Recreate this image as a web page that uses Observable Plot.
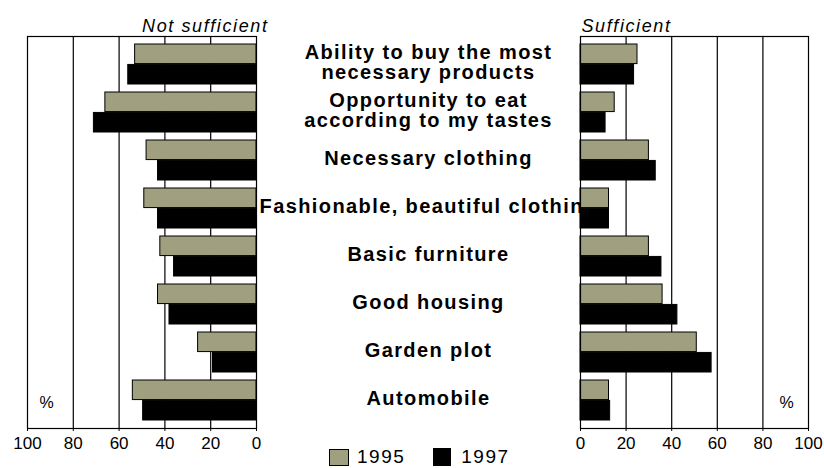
<!DOCTYPE html>
<html><head><meta charset="utf-8">
<script src="https://cdn.jsdelivr.net/npm/d3@7"></script>
<script src="https://cdn.jsdelivr.net/npm/@observablehq/plot@0.6"></script>
<style>
body{margin:0;background:#fff;}
#wrap{position:relative;width:824px;height:468px;overflow:hidden;font-family:"Liberation Sans",Arial,sans-serif;}
#wrap svg{position:absolute;left:0;top:0;}
g[font-weight="bold"] text{letter-spacing:1.4px;}
g[font-style="italic"] text{letter-spacing:1.6px;}
.legend{position:absolute;top:446px;left:329px;display:flex;align-items:center;font-size:19px;letter-spacing:1.5px;color:#000;}
.sw{display:inline-block;box-sizing:border-box;border:1px solid #000;}
</style></head>
<body><div id="wrap"></div>
<script>
const categories = [
  "Ability to buy the most\nnecessary products",
  "Opportunity to eat\naccording to my tastes",
  "Necessary clothing",
  "Fashionable, beautiful clothing",
  "Basic furniture",
  "Good housing",
  "Garden plot",
  "Automobile"
];
const years = ["1995", "1997"];
const notSufficient1995 = [53, 66, 48, 49, 42, 43, 25.5, 54];
const notSufficient1997 = [56, 71, 43, 43, 36, 38, 19, 49.5];
const sufficient1995 = [25, 15, 30, 12.5, 30, 36, 51, 12.5];
const sufficient1997 = [23.5, 11, 33, 12.5, 35.5, 42.5, 57.5, 13];
const xTicks = [0, 20, 40, 60, 80, 100];
const gridTicks = [20, 40, 60, 80];
const colors = {"1995": "#a0a080", "1997": "#000000"};

function rows(a, b) {
  return categories.flatMap((c, i) => [
    {category: c, year: years[0], value: a[i]},
    {category: c, year: years[1], value: b[i]}
  ]);
}
const leftRows = rows(notSufficient1995, notSufficient1997);
const rightRows = rows(sufficient1995, sufficient1997);

const W = 824, H = 458, TOP = 36, BOTTOM = 428;
const PI = 0.16, PO = 0.11;
const step = (BOTTOM - TOP) / (categories.length - PI + 2 * PO);
const half = step * (1 - PI) / 2;

function bars(data) {
  return [
    Plot.barX(data.filter(d => d.year === years[0]), {
      x: "value", y: "category", fill: colors["1995"], stroke: "black", strokeWidth: 1, insetBottom: half
    }),
    Plot.barX(data.filter(d => d.year === years[1]), {
      x: "value", y: "category", fill: colors["1997"], stroke: "black", strokeWidth: 1, insetTop: half
    })
  ];
}

const yScale = {domain: categories, type: "band", paddingInner: PI, paddingOuter: PO, axis: null};
const style = {background: "transparent", fontFamily: "'Liberation Sans', Arial, sans-serif", fontSize: "17px", overflow: "visible", color: "black"};

const left = Plot.plot({
  width: W, height: H,
  marginTop: TOP, marginBottom: H - BOTTOM, marginLeft: 27, marginRight: W - 256,
  x: {domain: [0, 100], reverse: true, axis: null},
  y: yScale,
  style,
  marks: [
    Plot.ruleX(gridTicks, {stroke: "black", strokeWidth: 1.2}),
    ...bars(leftRows),
    Plot.frame({stroke: "black", strokeWidth: 1.2}),
    Plot.axisX({ticks: xTicks, tickSize: 3, tickPadding: 5, fontSize: 17, label: null, anchor: "bottom"}),
    Plot.text(categories, {x: () => 0, y: d => d, text: d => d, dx: 172, dy: -2, fontWeight: "bold", fontSize: 20, lineHeight: 1.0, textAnchor: "middle", lineAnchor: "middle"}),
    Plot.text(["Not sufficient"], {frameAnchor: "top-right", text: d => d, dx: 12, dy: -5, fontStyle: "italic", fontSize: 18, textAnchor: "end", lineAnchor: "bottom"}),
    Plot.text(["%"], {frameAnchor: "bottom-left", text: d => d, dx: 19, dy: -21, fontSize: 16, textAnchor: "middle"})
  ]
});

const right = Plot.plot({
  width: W, height: H,
  marginTop: TOP, marginBottom: H - BOTTOM, marginLeft: 580, marginRight: W - 808,
  x: {domain: [0, 100], axis: null},
  y: yScale,
  style,
  marks: [
    Plot.frame({fill: "white", stroke: null}),
    Plot.ruleX(gridTicks, {stroke: "black", strokeWidth: 1.2}),
    ...bars(rightRows),
    Plot.frame({stroke: "black", strokeWidth: 1.2}),
    Plot.axisX({ticks: xTicks, tickSize: 3, tickPadding: 5, fontSize: 17, label: null, anchor: "bottom"}),
    Plot.text(["Sufficient"], {frameAnchor: "top-left", text: d => d, dx: 1, dy: -5, fontStyle: "italic", fontSize: 18, textAnchor: "start", lineAnchor: "bottom"}),
    Plot.text(["%"], {frameAnchor: "bottom-right", text: d => d, dx: -22, dy: -21, fontSize: 16, textAnchor: "middle"})
  ]
});

const wrap = document.getElementById("wrap");
wrap.appendChild(left);
wrap.appendChild(right);

const legend = document.createElement("div");
legend.className = "legend";
legend.innerHTML =
  `<span class="sw" style="width:20px;height:17px;background:${colors["1995"]}"></span>` +
  `<span style="margin-left:8px">${years[0]}</span>` +
  `<span class="sw" style="width:18px;height:18px;background:${colors["1997"]};margin-left:28px"></span>` +
  `<span style="margin-left:10px">${years[1]}</span>`;
wrap.appendChild(legend);
</script>
</body></html>
